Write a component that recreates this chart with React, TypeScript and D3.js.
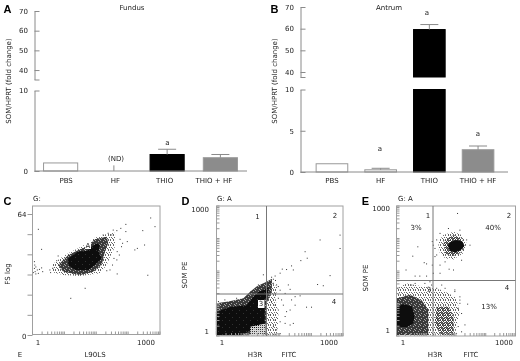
import React, { useEffect, useRef } from 'react';
import * as d3 from 'd3';

// bar charts (fold change)
const categories = ['PBS', 'HF', 'THIO', 'THIO + HF'];
const fundusMeans = [1, 0, 2.05, 1.65];
const fundusErrors = [0, 0.7, 0.65, 0.4];
const antrumMeans = [1, 0.27, 59.6, 2.7];
const antrumErrors = [0, 0.18, 2.3, 0.45];
const fundusTicksTop = [40, 50, 60, 70];
const fundusTicksLow = [0, 10];
const antrumTicksTop = [40, 50, 60, 70];
const antrumTicksLow = [0, 5, 10];

// flow plots: [log10 x, y] (y is log10 too, except FS in panel C)
const cOuter = [[0.38,37],[0.61,40.5],[0.84,43.2],[1.17,46.4],[1.37,48.5],[1.58,51.5],[1.91,53.4],[2.14,54.1],[2.14,46.7],[2.0,41.4],[1.91,37],[1.72,32.6],[1.17,31.2],[0.7,31.7],[0.43,33]];
const cMid = [[0.56,37],[0.84,42.3],[1.17,45.3],[1.37,46.7],[1.58,50.6],[1.91,52],[1.95,48.5],[1.86,44.1],[1.77,37],[1.54,33.5],[1.17,31.7],[0.7,33.5]];
const cCore = [[0.84,40.5],[1.12,44.1],[1.37,44.4],[1.49,46.7],[1.63,48.5],[1.72,47.6],[1.68,44.1],[1.77,40.5],[1.58,37],[1.4,34.4],[1.03,34.4],[0.84,37]];
const cStray = [[-0.1,38.8],[-0.09,37],[-0.1,35.2],[-0.08,33.5],[-0.06,32.3],[-0.02,34.4],[0.04,34.7],[0.1,35.5],[0.13,33.5],[0.01,32.6],[-0.13,33],[-0.06,36],[0.1,45.3],[0.01,55.9],[0.33,34.4],[0.35,33],[0.41,35.3],[0.56,41.8],[0.52,39.3],[2.44,58.5],[2.3,56.4],[2.19,55.2],[2.09,55.5],[2.44,54.7],[2.35,48.5],[2.48,49.4],[2.32,46.7],[2.28,50.6],[2.2,44.1],[2.26,42.3],[2.69,45],[2.76,45.8],[2.91,55.2],[2.96,47.6],[3.13,61.9],[3.25,57.3],[3.05,31.6],[2.2,32.3],[1.91,34],[2.0,34.4],[2.07,37],[2.11,40.5],[2.19,39.7],[0.91,19.4],[1.31,24.7],[1.95,53.8],[1.81,52.9],[2.05,52.9]];

const dOuter = [[1.2,1.0],[1.4,1.2],[1.55,1.1],[1.5,0.8],[1.58,0.45],[1.55,-0.09],[1.2,-0.09]];
const dMid = [[-0.17,0.7],[0.18,0.74],[0.6,0.82],[0.79,0.98],[0.97,1.11],[1.25,1.23],[1.4,1.3],[1.4,1.0],[1.25,0.7],[1.25,-0.09],[-0.17,-0.09]];
const dCore = [[-0.17,0.49],[0.27,0.61],[0.69,0.65],[0.88,0.86],[1.02,0.98],[1.21,1.04],[1.3,1.1],[1.3,0.98],[1.2,0.78],[1.2,0.2],[0.93,0.08],[0.55,-0.09],[-0.17,-0.09]];
const dPale = [[0.79,0.12],[1.22,0.2],[1.22,-0.09],[0.79,-0.09]];
const dStray = [[2.75,2.26],[2.33,1.97],[2.39,1.81],[2.21,1.75],[1.95,1.62],[2.0,1.52],[1.81,1.53],[1.69,1.54],[1.63,1.44],[1.44,1.29],[1.5,1.26],[1.86,1.15],[1.91,1.04],[2.68,1.16],[2.84,1.13],[3.03,1.38],[3.31,2.38],[3.31,2.05],[2.05,0.86],[2.19,0.88],[1.95,0.78],[1.77,0.94],[1.67,0.78],[1.72,0.65],[1.58,0.53],[1.81,0.49],[1.91,0.53],[2.37,0.6],[2.51,0.6],[1.49,0.28],[1.63,0.24],[1.77,0.2],[1.91,0.16],[1.53,0.04],[1.44,0.12],[1.77,0.37],[2.0,0.2],[1.16,1.4],[2.05,0.65],[1.49,0.65],[1.58,0.82],[1.39,0.74],[1.35,0.41],[1.63,-0.05],[-0.1,0.74],[0.08,0.78],[0.22,0.71],[0.41,0.82],[0.55,0.78],[0.69,0.86],[0.81,0.98],[0.91,1.02],[1.02,1.15],[1.13,1.16],[1.25,1.27],[1.39,1.34],[1.49,1.37],[1.35,1.23],[1.44,1.19],[1.53,1.15],[1.63,1.02],[1.58,1.11],[1.49,0.94]];

const eTopOuter = [[1.05,2.2],[1.2,2.36],[1.5,2.44],[1.74,2.36],[1.89,2.16],[1.79,1.91],[1.5,1.76],[1.25,1.79],[1.07,1.95]];
const eTopMid = [[1.2,2.2],[1.5,2.36],[1.74,2.28],[1.84,2.07],[1.69,1.91],[1.45,1.83],[1.25,1.91]];
const eTopCore = [[1.33,2.11],[1.43,2.2],[1.59,2.24],[1.76,2.2],[1.82,2.09],[1.72,1.99],[1.54,1.93],[1.39,1.97]];
const eLowOuter = [[-0.19,1.05],[0.11,1.17],[0.65,1.09],[1.15,1.01],[1.54,0.84],[1.69,0.52],[1.54,-0.1],[-0.19,-0.1]];
const eLowMid = [[-0.19,0.8],[0.21,0.89],[0.55,0.76],[0.75,0.52],[0.75,-0.1],[-0.19,-0.1]];
const eRightMid = [[1.0,0.6],[1.35,0.6],[1.5,0.35],[1.5,-0.1],[1.1,-0.1],[0.95,0.19]];
const eLowCore = [[-0.19,0.6],[0.01,0.66],[0.26,0.61],[0.34,0.39],[0.31,0.19],[0.11,0.09],[-0.19,0.11]];
const eStray = [[1.62,2.89],[0.44,2.07],[0.29,1.84],[0.63,1.68],[0.7,1.65],[0.09,1.5],[0.36,1.35],[0.5,1.35],[0.7,1.35],[0.87,2.2],[0.9,2.11],[0.95,1.83],[0.87,1.62],[1.1,1.42],[1.37,1.52],[1.5,1.5],[1.1,1.62],[1.25,1.7],[0.9,1.42],[1.92,0.66],[1.84,0.15],[1.69,0.68],[1.64,0.56],[0.36,1.17],[0.8,1.21],[1.15,1.13],[1.54,0.97],[1.69,0.84],[1.25,1.05],[1.1,2.4],[1.0,2.24],[0.95,2.03],[1.0,1.87],[1.74,1.74],[1.89,2.24],[1.99,2.11],[1.69,2.48],[1.35,2.52],[0.85,1.13],[1.0,1.05],[0.65,1.17],[0.26,1.13],[1.54,1.01],[1.69,0.76],[1.74,0.43],[1.64,0.11],[1.59,-0.06],[1.74,-0.02]];

const FONT = '"DejaVu Sans", sans-serif';
const TEXT = '#222';
const LINE = '#8a8a8a';
const SIZE = 7;

const label = (g, x, y, s, opts: any = {}) =>
  g.append('text')
    .attr('x', x).attr('y', y)
    .attr('text-anchor', opts.anchor || 'middle')
    .attr('dominant-baseline', 'central')
    .attr('transform', opts.rotate ? `rotate(-90,${x},${y})` : null)
    .style('font-family', opts.bold ? '"Liberation Sans", sans-serif' : FONT)
    .style('font-size', (opts.size || SIZE) + 'px')
    .style('font-weight', opts.bold ? 700 : 400)
    .style('fill', opts.bold ? '#000' : TEXT)
    .text(s);

function styleAxis(sel) {
  sel.select('.domain').attr('stroke', LINE);
  sel.selectAll('.tick line').attr('stroke', LINE);
  sel.selectAll('.tick text')
    .style('font-family', FONT).style('font-size', SIZE + 'px').style('fill', TEXT);
}

function drawBars(svg, c) {
  const { means, errors, yTop, yLow, xBand, labelBand, barColor } = c;
  const g = svg.append('g');
  const breakLow = yTop.domain()[0];

  g.append('g').attr('transform', `translate(${c.axisX},0)`)
    .call(d3.axisLeft(yTop).tickValues([breakLow, ...c.ticksTop]).tickSizeInner(-5).tickSizeOuter(0).tickPadding(6.5)
      .tickFormat(d => (d === breakLow ? '' : String(d))))
    .call(styleAxis);
  g.append('g').attr('transform', `translate(${c.axisX},0)`)
    .call(d3.axisLeft(yLow).tickValues(c.ticksLow).tickSizeInner(-5).tickSizeOuter(0).tickPadding(6.5))
    .call(styleAxis);

  categories.forEach((cat, i) => {
    const x0 = xBand(cat);
    const w = xBand.bandwidth();
    const top = means[i];
    const rects = top > yLow.domain()[1]
      ? [[yTop(top), yTop(breakLow)], [yLow(yLow.domain()[1]), yLow(0)]]
      : [[yLow(top), yLow(0)]];
    if (top > 0) {
      rects.forEach(([y0, y1]) => {
        g.append('rect').attr('x', x0 + 0.5).attr('y', y0).attr('width', w - 1).attr('height', y1 - y0)
          .attr('fill', barColor[i]).attr('stroke', i === 2 ? '#000' : '#999').attr('stroke-width', 1);
      });
    }
    if (errors[i] > 0) {
      const s = top > yLow.domain()[1] ? yTop : yLow;
      const cx = x0 + w / 2;
      g.append('line').attr('x1', cx).attr('x2', cx).attr('y1', s(top)).attr('y2', s(top + errors[i])).attr('stroke', LINE);
      if (top > 0) {
        g.append('line').attr('x1', cx - 9).attr('x2', cx + 9).attr('y1', s(top + errors[i])).attr('y2', s(top + errors[i])).attr('stroke', LINE);
      }
    }
    label(g, labelBand(cat) + labelBand.bandwidth() / 2, c.catY, cat);
  });

  // baseline
  g.append('line').attr('x1', c.axisX).attr('x2', c.axisEnd).attr('y1', yLow(0)).attr('y2', yLow(0)).attr('stroke', LINE);

  label(g, c.axisLabelX, 81, 'SOM/HPRT (fold change)', { rotate: true });
  label(g, c.titleX, 7.5, c.title);
  label(g, c.letterX, 9, c.letter, { bold: true, size: 11 });
  c.notes.forEach(([x, y, s]) => label(g, x, y, s));
}

function drawFlow(svg, c) {
  const { box, x, y, tickX, tickY } = c;
  const g = svg.append('g');
  const clipId = 'clip' + c.letter;
  svg.select('defs').append('clipPath').attr('id', clipId)
    .append('rect').attr('x', box.x0).attr('y', box.y0).attr('width', box.x1 - box.x0).attr('height', box.y1 - box.y0);

  const px = d => x(10 ** d[0]);
  const py = d => (c.linearY ? y(d[1]) : y(10 ** d[1]));
  const outline = d3.line().x(px).y(py).curve(d3.curveLinearClosed);

  const plot = g.append('g').attr('clip-path', `url(#${clipId})`);
  c.layers.forEach(([pts, fill]) => {
    plot.append('path').attr('d', outline(pts)).attr('fill', fill);
  });
  plot.selectAll('rect.dot').data(c.stray).enter().append('rect')
    .attr('class', 'dot')
    .attr('x', d => px(d) - 0.5).attr('y', d => py(d) - 0.5)
    .attr('width', 1).attr('height', 1).attr('fill', '#333');

  g.append('rect').attr('x', box.x0).attr('y', box.y0).attr('width', box.x1 - box.x0).attr('height', box.y1 - box.y0)
    .attr('fill', 'none').attr('stroke', '#a0a0a0');

  // log ticks along the bottom, the scale runs four decades over the box
  g.selectAll('line.bx').data(tickX.ticks()).enter().append('line').attr('class', 'bx')
    .attr('x1', d => tickX(d)).attr('x2', d => tickX(d)).attr('y1', box.y1).attr('y2', box.y1 - 3).attr('stroke', '#999');

  if (c.linearY) {
    g.append('g').attr('transform', `translate(${box.x0},0)`)
      .call(d3.axisLeft(y).tickValues(d3.range(0, 7).map(i => (i * 64) / 6)).tickSizeOuter(0).tickSizeInner(5).tickPadding(0).tickFormat(() => ''))
      .call(sel => sel.select('.domain').remove())
      .call(sel => sel.selectAll('.tick line').attr('stroke', '#999'));
    label(g, c.yLabelX, y(64) + 1, '64', { anchor: 'end' });
    label(g, c.yLabelX, y(0) + 2, '0', { anchor: 'end' });
  } else {
    g.selectAll('line.by').data(tickY.ticks()).enter().append('line').attr('class', 'by')
      .attr('x1', box.x0).attr('x2', box.x0 + 3).attr('y1', d => tickY(d)).attr('y2', d => tickY(d)).attr('stroke', '#999');
    label(g, c.yLabelX, y(1000), '1000', { anchor: 'end' });
    label(g, c.yLabelX, y(1), '1', { anchor: 'end' });
    g.append('line').attr('x1', c.splitX).attr('x2', c.splitX).attr('y1', box.y0).attr('y2', box.y1).attr('stroke', '#777');
    g.append('line').attr('x1', box.x0).attr('x2', box.x1).attr('y1', c.splitY).attr('y2', c.splitY).attr('stroke', '#777');
  }

  label(g, x(1), 343, '1');
  label(g, x(1000), 343, '1000');
  c.axisNames.forEach(([lx, s]) => label(g, lx, 354.5, s));
  label(g, c.yNameX, c.yNameY, c.yName, { rotate: true });
  label(g, c.gateX, 198.5, c.gate, { anchor: 'start' });
  label(g, c.letterX, 200.5, c.letter, { bold: true, size: 11 });
  (c.whiteBoxes || []).forEach(([bx, by, bw, bh]) => {
    g.append('rect').attr('x', bx).attr('y', by).attr('width', bw).attr('height', bh).attr('fill', '#fff');
  });
  c.notes.forEach(([lx, ly, s]) => label(g, lx, ly, s));
}

export default function App() {
  const ref = useRef<SVGSVGElement | null>(null);

  useEffect(() => {
    const svg = d3.select(ref.current);
    svg.selectAll('*').remove();
    const defs = svg.append('defs');

    defs.append('filter').attr('id', 'soft').append('feGaussianBlur').attr('stdDeviation', 0.4);

    // dither fills, the density plots are printed as stippled pixels
    const dither = (id, size, cells, col, bg = 'none') => {
      const p = defs.append('pattern').attr('id', id).attr('width', size).attr('height', size).attr('patternUnits', 'userSpaceOnUse');
      p.append('rect').attr('width', size).attr('height', size).attr('fill', bg);
      cells.forEach(([a, b]) => p.append('rect').attr('x', a).attr('y', b).attr('width', 1).attr('height', 1).attr('fill', col));
    };
    dither('light', 5, [[0, 0], [3, 0], [1, 2], [4, 2], [2, 3], [0, 4], [3, 4]], '#666');
    dither('mid', 5, [[0, 0], [2, 0], [4, 0], [1, 1], [3, 1], [0, 2], [2, 2], [1, 3], [3, 3], [4, 3], [0, 4], [2, 4]], '#444');
    dither('dense', 5, [[0, 0], [3, 1], [1, 3], [4, 4]], '#a8a8a8', '#3a3a3a');
    dither('core', 7, [[1, 2], [5, 5]], '#333', '#0a0a0a');
    dither('pale', 2, [[0, 0], [1, 1], [1, 0]], '#d8d8d8');

    const root = svg.append('g').attr('filter', 'url(#soft)');

    const band = (r0, r1, pad) => d3.scaleBand().domain(categories).range([r0, r1]).paddingInner(pad).paddingOuter(pad / 2);
    const barColor = ['#fff', '#f4f4f4', '#000', '#8c8c8c'];

    drawBars(root, {
      letter: 'A', letterX: 7.5, title: 'Fundus', titleX: 132, axisLabelX: 8.5,
      means: fundusMeans, errors: fundusErrors, barColor,
      yTop: d3.scaleLinear().domain([35.2, 70]).range([79.5, 11]),
      yLow: d3.scaleLinear().domain([0, 10]).range([171, 90.5]),
      ticksTop: fundusTicksTop, ticksLow: fundusTicksLow,
      axisX: 34.5, axisEnd: 247,
      xBand: band(34, 247, 0.34), labelBand: band(41.5, 238.5, 0.2), catY: 180.5,
      notes: [[167.5, 142.5, 'a'], [116, 159, '(ND)']],
    });
    drawBars(root, {
      letter: 'B', letterX: 274.5, title: 'Antrum', titleX: 389, axisLabelX: 275,
      means: antrumMeans, errors: antrumErrors, barColor,
      yTop: d3.scaleLinear().domain([37.7, 70]).range([77, 7]),
      yLow: d3.scaleLinear().domain([0, 10]).range([172, 89.5]),
      ticksTop: antrumTicksTop, ticksLow: antrumTicksLow,
      axisX: 300.5, axisEnd: 508,
      xBand: band(307.6, 502.4, 0.33), labelBand: band(307.6, 502.4, 0.33), catY: 181,
      notes: [[427, 12.5, 'a'], [380, 149, 'a'], [478, 134, 'a']],
    });

    drawFlow(root, {
      letter: 'C', letterX: 7.5, gate: 'G:', gateX: 33, linearY: true,
      box: { x0: 32.5, x1: 160, y0: 206, y1: 334.5 },
      x: d3.scaleLog().domain([1, 1000]).range([38, 146]),
      y: d3.scaleLinear().domain([0, 64]).range([335, 214]),
      tickX: d3.scaleLog().domain([1, 10000]).range([32.5, 160]),
      yLabelX: 26.5, yName: 'FS log', yNameX: 8, yNameY: 274,
      axisNames: [[20, 'E'], [95, 'L90LS']],
      layers: [[cOuter, 'url(#light)'], [cMid, 'url(#dense)'], [cCore, 'url(#core)']],
      stray: cStray,
      whiteBoxes: [[85, 242, 6, 7]],
      notes: [[88, 245.5, 'A']],
    });
    drawFlow(root, {
      letter: 'D', letterX: 185.5, gate: 'G: A', gateX: 217,
      box: { x0: 216.5, x1: 343, y0: 206, y1: 336 },
      x: d3.scaleLog().domain([1, 1000]).range([222, 329]),
      y: d3.scaleLog().domain([1, 1000]).range([331.5, 210]),
      tickX: d3.scaleLog().domain([1, 10000]).range([216.5, 343]),
      tickY: d3.scaleLog().domain([1, 10000]).range([336, 206]),
      splitX: 266.5, splitY: 294,
      yLabelX: 209, yName: 'SOM PE', yNameX: 185, yNameY: 275,
      axisNames: [[255, 'H3R'], [289, 'FITC']],
      layers: [[dOuter, 'url(#light)'], [dMid, 'url(#dense)'], [dCore, 'url(#core)'], [dPale, 'url(#pale)']],
      stray: dStray,
      whiteBoxes: [[258, 300, 6.5, 8]],
      notes: [[257.5, 216.5, '1'], [335, 216, '2'], [261, 304, '3'], [334, 302, '4']],
    });
    drawFlow(root, {
      letter: 'E', letterX: 365.5, gate: 'G: A', gateX: 398,
      box: { x0: 396.5, x1: 515.5, y0: 206, y1: 336 },
      x: d3.scaleLog().domain([1, 1000]).range([403, 504]),
      y: d3.scaleLog().domain([1, 1000]).range([331, 209]),
      tickX: d3.scaleLog().domain([1, 10000]).range([396.5, 515.5]),
      tickY: d3.scaleLog().domain([1, 10000]).range([336, 206]),
      splitX: 433, splitY: 280.5,
      yLabelX: 390, yName: 'SOM PE', yNameX: 366, yNameY: 278,
      axisNames: [[435, 'H3R'], [471, 'FITC']],
      layers: [
        [eLowOuter, 'url(#light)'], [eTopOuter, 'url(#light)'], [eTopMid, 'url(#mid)'],
        [eLowMid, 'url(#dense)'], [eRightMid, 'url(#mid)'], [eLowCore, '#0c0c0c'], [eTopCore, '#0c0c0c'],
      ],
      stray: eStray,
      notes: [[428, 216, '1'], [509, 216, '2'], [416, 228, '3%'], [493, 228, '40%'], [429, 290, '3'], [507, 288, '4'], [489, 307, '13%']],
    });
  }, []);

  return <svg ref={ref} width={520} height={361} style={{ position: 'absolute', left: 0, top: 0, background: '#fff' }} />;
}
